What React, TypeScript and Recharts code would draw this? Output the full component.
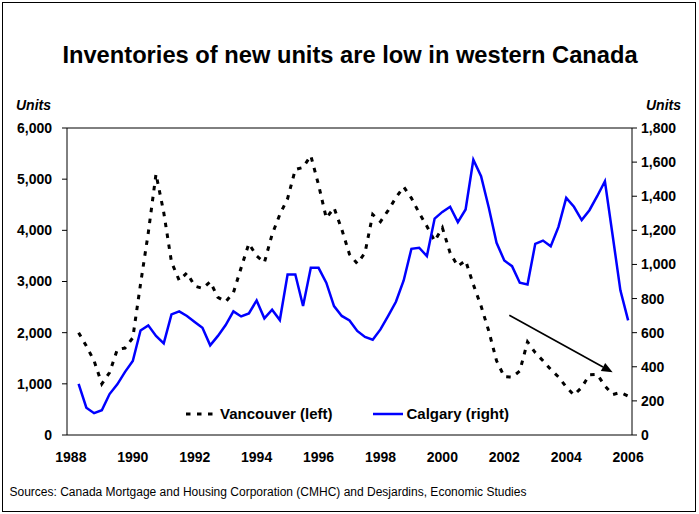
import React from 'react';
import { LineChart, Line, XAxis, YAxis, ReferenceLine, Legend } from 'recharts';

// Quarterly series, index 0 = 1988 Q1 ... index 72 = 2006 Q1
const vancouver: (number | null)[] = [
  null, 2000, 1740, 1450, 1000, 1220, 1670, 1700, 1900, 2950, 3950, 5100, 4350, 3380, 3020,
  3170, 2910, 2865, 2995, 2690, 2605, 2780, 3270, 3740, 3500, 3370, 3920, 4310, 4620,
  5190, 5230, 5460, 4890, 4240, 4440, 4020, 3530, 3350, 3560, 4310, 4170, 4390, 4640,
  4850, 4630, 4340, 4080, 3790, 4050, 3560, 3300, 3410, 2940, 2520, 2030, 1450, 1140,
  1130, 1250, 1820, 1610, 1450, 1280, 1135, 940, 780, 930, 1175, 1185, 960, 790, 830, 760,
];
const calgary: (number | null)[] = [
  null, 300, 160, 128, 145, 240, 297, 370, 434, 613, 643, 581, 537, 707, 725,
  698, 663, 629, 526, 581, 645, 725, 695, 713, 789, 684, 735, 674, 941,
  941, 756, 980, 980, 893, 756, 698, 672, 610, 575, 559, 619, 698, 781,
  906, 1092, 1098, 1049, 1269, 1308, 1338, 1248, 1322, 1614, 1517, 1332, 1127, 1023, 990,
  893, 883, 1121, 1140, 1107, 1220, 1390, 1338, 1260, 1318, 1400, 1488, 1170, 848, 672,
];
const xTicks = [0, 8, 16, 24, 32, 40, 48, 56, 64, 72];
const xTickLabels = ['1988', '1990', '1992', '1994', '1996', '1998', '2000', '2002', '2004', '2006'];
const leftTicks = [0, 1000, 2000, 3000, 4000, 5000, 6000];
const rightTicks = [0, 200, 400, 600, 800, 1000, 1200, 1400, 1600, 1800];
// arrow annotation (quarter index, left-axis units)
const arrowPoints = [
  { x: 56.65, y: 2340 },
  { x: 70.0, y: 1225 },
];

const data = vancouver.map((v, i) => ({ q: i, vancouver: v, calgary: calgary[i] }));

const FONT = "'Liberation Sans', Arial, Helvetica, sans-serif";
const fmt = (v: number) => v.toLocaleString('en-US');

const ArrowShape = (props: any) => {
  const { x1, y1, x2, y2 } = props;
  const ang = Math.atan2(y2 - y1, x2 - x1);
  const len = 11;
  const w = 4.5;
  const bx = x2 - len * Math.cos(ang);
  const by = y2 - len * Math.sin(ang);
  const px = -Math.sin(ang) * w;
  const py = Math.cos(ang) * w;
  return (
    <g>
      <line x1={x1} y1={y1} x2={bx} y2={by} stroke="#000" strokeWidth={1.6} />
      <polygon points={`${x2},${y2} ${bx + px},${by + py} ${bx - px},${by - py}`} fill="#000" />
    </g>
  );
};

const LegendContent = () => (
  <div style={{ position: 'relative', width: 699, height: 28, fontFamily: FONT }}>
    <svg width={699} height={28} style={{ position: 'absolute', left: 0, top: 0 }}>
      <line x1={186} y1={14} x2={215} y2={14} stroke="#000" strokeWidth={3} strokeDasharray="4.5 6.5" />
      <line x1={373} y1={14} x2={403} y2={14} stroke="#0000ff" strokeWidth={2.5} />
      <text x={220} y={19.3} fontSize={15} fontWeight="bold" fill="#000" fontFamily={FONT}>Vancouver (left)</text>
      <text x={406.5} y={19.3} fontSize={15} fontWeight="bold" fill="#000" fontFamily={FONT}>Calgary (right)</text>
    </svg>
  </div>
);

export default function App() {
  return (
    <div style={{ position: 'absolute', left: 0, top: 0, width: 699, height: 514, background: '#fff' }}>
      <div style={{ position: 'absolute', left: 0, top: 0 }}>
        <LineChart
          width={699}
          height={514}
          data={data}
          margin={{ top: 128, right: 7, bottom: 49, left: 7 }}
        >
          <XAxis
            dataKey="q"
            type="number"
            domain={[-0.5, 72.5]}
            ticks={xTicks}
            tickFormatter={(v: number) => xTickLabels[xTicks.indexOf(v)]}
            axisLine={{ stroke: '#000', strokeWidth: 1 }}
            tickLine={false}
            tickSize={0}
            tickMargin={17}
            height={30}
            interval={0}
            tick={{ fill: '#000', fontSize: 14, fontWeight: 'bold', fontFamily: FONT }}
          />
          <YAxis
            yAxisId="left"
            domain={[0, 6000]}
            ticks={leftTicks}
            tickFormatter={fmt}
            width={60}
            axisLine={{ stroke: '#000' }}
            tickLine={{ stroke: '#000' }}
            tickSize={5}
            tickMargin={10}
            interval={0}
            tick={{ fill: '#000', fontSize: 14, fontWeight: 'bold', fontFamily: FONT }}
          />
          <YAxis
            yAxisId="right"
            orientation="right"
            domain={[0, 1800]}
            ticks={rightTicks}
            tickFormatter={fmt}
            width={60}
            axisLine={{ stroke: '#000' }}
            tickLine={{ stroke: '#000' }}
            tickSize={5}
            tickMargin={4}
            interval={0}
            tick={{ fill: '#000', fontSize: 14, fontWeight: 'bold', fontFamily: FONT, textAnchor: 'start' }}
          />
          <ReferenceLine yAxisId="left" y={6000} stroke="#000" strokeWidth={1} ifOverflow="extendDomain" />
          <Line
            yAxisId="left"
            type="linear"
            dataKey="vancouver"
            stroke="#000"
            strokeWidth={3}
            strokeDasharray="4.5 6.5"
            dot={false}
            activeDot={false}
            isAnimationActive={false}
          />
          <Line
            yAxisId="right"
            type="linear"
            dataKey="calgary"
            stroke="#0000ff"
            strokeWidth={2.5}
            dot={false}
            activeDot={false}
            isAnimationActive={false}
          />
          <ReferenceLine yAxisId="left" segment={arrowPoints} shape={ArrowShape} />
          <Legend
            layout="horizontal"
            align="center"
            verticalAlign="middle"
            content={LegendContent}
            wrapperStyle={{ position: 'absolute', left: 0, top: 400, width: 699, height: 28 }}
          />
        </LineChart>
      </div>
      <svg width={699} height={514} style={{ position: 'absolute', left: 0, top: 0, pointerEvents: 'none' }}>
        <rect x={2.5} y={2.5} width={693} height={509} fill="none" stroke="#000" strokeWidth={1} />
        <text x={350} y={63} textAnchor="middle" fontSize={23.7} fontWeight="bold" fill="#000" fontFamily={FONT}>
          Inventories of new units are low in western Canada
        </text>
        <text x={16} y={110} fontSize={14} fontWeight="bold" fontStyle="italic" fill="#000" fontFamily={FONT}>Units</text>
        <text x={681} y={110} textAnchor="end" fontSize={14} fontWeight="bold" fontStyle="italic" fill="#000" fontFamily={FONT}>Units</text>
        <text x={9.5} y={496} fontSize={12} fill="#000" fontFamily={FONT}>
          Sources: Canada Mortgage and Housing Corporation (CMHC) and Desjardins, Economic Studies
        </text>
      </svg>
    </div>
  );
}
